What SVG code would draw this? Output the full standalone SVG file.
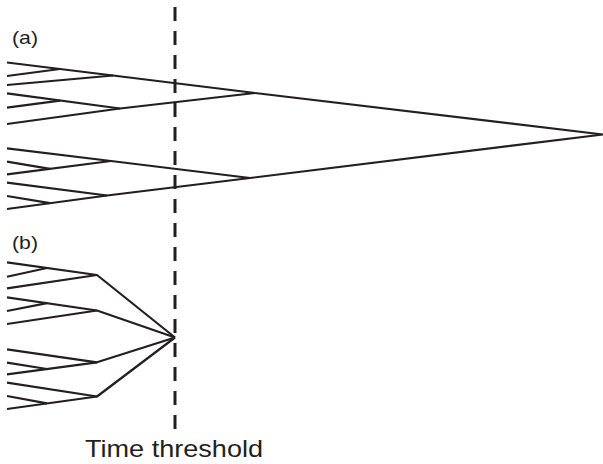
<svg xmlns="http://www.w3.org/2000/svg" width="603" height="464" viewBox="0 0 603 464">
  <style>
    .br { fill: none; stroke: #231f20; stroke-width: 2.2; stroke-linejoin: round; stroke-linecap: butt; }
    .cut { fill: none; stroke: #231f20; stroke-width: 3; stroke-dasharray: 14 10; }
    .lbl { font-family: "Liberation Sans", Arial, sans-serif; fill: #231f20; }
  </style>
  <rect width="603" height="464" fill="#ffffff"/>

  <!-- (a): full tree, all merges happen, root far right -->
  <g id="tree-a">
    <g id="a-clade-1" class="br">
      <polyline points="7,62.5 113,75.5 255,93"/>
      <polyline points="7,85 113,75.5"/>
      <polyline points="7,76 60,69"/>
    </g>
    <g id="a-clade-2" class="br">
      <polyline points="7,93.3 120,108.5 255,93"/>
      <polyline points="7,124 120,108.5"/>
      <polyline points="7,107.7 60,100.6"/>
    </g>
    <g id="a-clade-3" class="br">
      <polyline points="7,148.3 111,161 250,178"/>
      <polyline points="7,174.3 111,161"/>
      <polyline points="7,161.7 50,168.8"/>
    </g>
    <g id="a-clade-4" class="br">
      <polyline points="7,182.7 107,195.5 250,178"/>
      <polyline points="7,209 107,195.5"/>
      <polyline points="7,196 50,203.2"/>
    </g>
    <g id="a-root" class="br">
      <polyline points="255,93 603,134.5 250,178"/>
    </g>
  </g>

  <!-- (b): tree collapsed at the threshold -->
  <g id="tree-b">
    <g id="b-clade-1" class="br">
      <polyline points="7,262.3 97,275 175,337.5"/>
      <polyline points="7,288.3 97,275"/>
      <polyline points="7,276.7 47,268"/>
    </g>
    <g id="b-clade-2" class="br">
      <polyline points="7,297.3 97,310.5 175,337.5"/>
      <polyline points="7,324 97,310.5"/>
      <polyline points="7,311 47,303.2"/>
    </g>
    <g id="b-clade-3" class="br">
      <polyline points="7,349.3 97,362.3 175,337.5"/>
      <polyline points="7,374.3 97,362.3"/>
      <polyline points="7,362.7 47,369"/>
    </g>
    <g id="b-clade-4" class="br">
      <polyline points="7,382.7 97,396.5 175,337.5"/>
      <polyline points="7,409 97,396.5"/>
      <polyline points="7,396 47,403.4"/>
    </g>
  </g>

  <!-- threshold -->
  <g id="threshold">
    <line class="cut" x1="175" y1="7" x2="175" y2="429"/>
  </g>

  <g id="labels">
    <text class="lbl" x="12" y="44" font-size="19" textLength="26" lengthAdjust="spacingAndGlyphs">(a)</text>
    <text class="lbl" x="12" y="249" font-size="19" textLength="26" lengthAdjust="spacingAndGlyphs">(b)</text>
    <text class="lbl" x="85" y="457" font-size="24" textLength="178" lengthAdjust="spacingAndGlyphs">Time threshold</text>
  </g>
</svg>
